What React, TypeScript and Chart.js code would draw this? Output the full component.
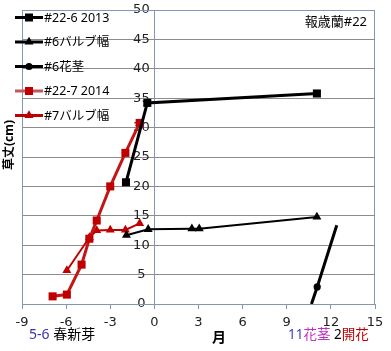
import React, { useEffect, useRef } from 'react';
import { Chart, registerables } from 'chart.js';
Chart.register(...registerables);

// ---- data ----
const xMin = -9, xMax = 15, xStep = 3;
const yMin = 0, yMax = 50, yStep = 5;

const s1Label = '#22-6 2013';
const s1X = [-1.93, -0.48, 11.05];
const s1Y = [20.7, 34.2, 35.8];

const s2Label = '#6バルブ幅';
const s2X = [-1.9, -0.42, 2.55, 3.05, 11.05];
const s2Y = [11.7, 12.7, 12.8, 12.8, 14.8];

const s3Label = '#6花茎';
const s3X = [10.68, 11.07, 12.4];
const s3Y = [0, 2.9, 13.4];
const s3Markers = [0, 1, 0];

const s4Label = '#22-7 2014';
const s4X = [-6.92, -5.95, -4.95, -4.42, -3.92, -3.0, -1.97, -1.0];
const s4Y = [1.3, 1.6, 6.7, 11.1, 14.2, 20.0, 25.7, 30.8];

const s5Label = '#7バルブ幅';
const s5X = [-5.95, -4.42, -3.92, -3.0, -1.97, -1.0];
const s5Y = [5.7, 11.3, 12.5, 12.6, 12.6, 13.7];

const titleText = '報歳蘭#22';
const yTitle = '草丈(cm)';
const xTitle = '月';

const pts = (xs: number[], ys: number[]) => xs.map((x, i) => ({ x, y: ys[i] }));

const RED = '#C00000';
const AXIS = '#8497B0';
const GRID = '#8C8C8C';

function drawMarker(ctx: CanvasRenderingContext2D, style: string, x: number, y: number, color: string) {
  ctx.save();
  ctx.fillStyle = color;
  ctx.beginPath();
  if (style === 'rect') {
    ctx.rect(x - 4, y - 4, 8, 8);
  } else if (style === 'triangle') {
    const r = 5.2;
    ctx.moveTo(x, y - r);
    ctx.lineTo(x + r * 0.866, y + r * 0.5);
    ctx.lineTo(x - r * 0.866, y + r * 0.5);
    ctx.closePath();
  } else {
    ctx.arc(x, y, 3.6, 0, Math.PI * 2);
  }
  ctx.fill();
  ctx.restore();
}

const legendItems = [
  { label: s1Label, line: '#000', width: 3, marker: 'rect', mColor: '#000' },
  { label: s2Label, line: '#000', width: 3, marker: 'triangle', mColor: '#000' },
  { label: s3Label, line: '#000', width: 3, marker: 'circle', mColor: '#000' },
  { label: s4Label, line: '#C05A5A', width: 3, marker: 'rect', mColor: RED },
  { label: s5Label, line: RED, width: 3, marker: 'triangle', mColor: RED },
];
const legendY = [17.5, 42, 66.5, 91, 115.5];

const decor = {
  id: 'decor',
  beforeDraw(chart: any) {
    // centre the y tick labels a little left of the crossing axis
    const ys = chart.scales.y;
    const items = ys.getLabelItems(chart.chartArea);
    items.forEach((it: any) => {
      if (!it._moved) {
        it.options.textAlign = 'center';
        it.options.translation[0] = it.options.translation[0] - 13;
        it._moved = true;
      }
    });
  },
  beforeDatasetsDraw(chart: any) {
    const { ctx, chartArea: a } = chart;
    ctx.save();
    ctx.strokeStyle = AXIS;
    ctx.lineWidth = 1;
    ctx.strokeRect(Math.round(a.left) + 0.5, Math.round(a.top) + 0.5, Math.round(a.right - a.left) - 1, Math.round(a.bottom - a.top));
    ctx.restore();
  },
  afterDraw(chart: any) {
    const { ctx } = chart;
    ctx.save();
    // legend
    legendItems.forEach((it, i) => {
      const y = legendY[i];
      ctx.strokeStyle = it.line;
      ctx.lineWidth = it.width;
      ctx.beginPath();
      ctx.moveTo(15, y);
      ctx.lineTo(43, y);
      ctx.stroke();
      drawMarker(ctx, it.marker, 29, y, it.mColor);
      ctx.fillStyle = '#000';
      ctx.font = "12.5px 'Noto Sans', 'Noto Sans CJK JP'";
      ctx.textBaseline = 'middle';
      ctx.textAlign = 'left';
      ctx.fillText(it.label, 44, y + 0.5);
    });
    // top-right title
    ctx.font = "13px 'Noto Sans', 'Noto Sans CJK JP'";
    ctx.textAlign = 'right';
    ctx.textBaseline = 'middle';
    ctx.fillStyle = '#000';
    ctx.fillText(titleText, 367, 22.5);
    // y title
    ctx.save();
    ctx.translate(10, 145);
    ctx.rotate(-Math.PI / 2);
    ctx.font = "bold 12px 'Noto Sans', 'Noto Sans CJK JP'";
    ctx.textAlign = 'center';
    ctx.textBaseline = 'middle';
    ctx.fillText(yTitle, 0, 0);
    ctx.restore();
    // x title
    ctx.font = "bold 14px 'Noto Sans', 'Noto Sans CJK JP'";
    ctx.textAlign = 'center';
    ctx.textBaseline = 'middle';
    ctx.fillText(xTitle, 219, 338.5);
    // bottom notes
    const runs = (x: number, y: number, size: number, parts: [string, string][]) => {
      ctx.font = `${size}px 'Noto Sans', 'Noto Sans CJK JP'`;
      ctx.textAlign = 'left';
      ctx.textBaseline = 'middle';
      let cx = x;
      parts.forEach(([t, c]) => {
        ctx.fillStyle = c;
        ctx.fillText(t, cx, y);
        cx += ctx.measureText(t).width;
      });
    };
    runs(29, 335, 14, [['5-6 ', '#3535A5'], ['春新芽', '#000']]);
    runs(288, 335, 13.5, [['11', '#4040C0'], ['花茎', '#C030C0']]);
    runs(334, 335, 13.5, [['2', '#000'], ['開花', '#C00000']]);
    ctx.restore();
  },
};

export default function App() {
  const ref = useRef<HTMLCanvasElement>(null);
  useEffect(() => {
    document.body.style.margin = '0';
    const chart = new Chart(ref.current!, {
      type: 'line',
      data: {
        datasets: [
          { label: s1Label, data: pts(s1X, s1Y), borderColor: '#000', backgroundColor: '#000', borderWidth: 3, pointStyle: 'rect', pointRadius: 5.7, pointBorderWidth: 0 },
          { label: s2Label, data: pts(s2X, s2Y), borderColor: '#000', backgroundColor: '#000', borderWidth: 2, pointStyle: 'triangle', pointRadius: 5.2, pointBorderWidth: 0 },
          { label: s3Label, data: pts(s3X, s3Y), borderColor: '#000', backgroundColor: '#000', borderWidth: 3, pointStyle: 'circle', pointRadius: s3Markers.map((m) => (m ? 3.6 : 0)), pointBorderWidth: 0 },
          { label: s4Label, data: pts(s4X, s4Y), borderColor: '#C01818', backgroundColor: RED, borderWidth: 3, pointStyle: 'rect', pointRadius: 5.7, pointBorderWidth: 0 },
          { label: s5Label, data: pts(s5X, s5Y), borderColor: RED, backgroundColor: RED, borderWidth: 2, pointStyle: 'triangle', pointRadius: 5.2, pointBorderWidth: 0 },
        ],
      },
      options: {
        responsive: false,
        animation: false,
        layout: { padding: { left: 22, right: 16, top: 10, bottom: 0 } },
        plugins: { legend: { display: false }, tooltip: { enabled: false } },
        elements: { line: { tension: 0 } },
        scales: {
          x: {
            type: 'linear', min: xMin, max: xMax, position: 'bottom',
            ticks: { stepSize: xStep, color: '#222', font: { family: 'DejaVu Sans', size: 13 }, padding: 6, maxRotation: 0, autoSkip: false },
            grid: { drawOnChartArea: false, drawTicks: true, tickLength: 5, color: AXIS },
            border: { color: AXIS, width: 1 },
            afterFit: (s: any) => { s.height = 47; s.paddingLeft = 0; s.paddingRight = 0; },
          },
          y: {
            type: 'linear', min: yMin, max: yMax, position: { x: 0 } as any,
            ticks: { stepSize: yStep, color: '#222', font: { family: 'DejaVu Sans', size: 13 }, padding: 0 },
            grid: { color: GRID, drawTicks: false },
            border: { color: AXIS, width: 1 },
            afterFit: (s: any) => { s.paddingTop = 0; s.paddingBottom = 0; },
          },
        },
      },
      plugins: [decor],
    } as any);
    return () => chart.destroy();
  }, []);
  return (
    <div style={{ position: 'absolute', left: 0, top: 0, width: 391, height: 351 }}>
      <canvas ref={ref} width={391} height={351} />
    </div>
  );
}
